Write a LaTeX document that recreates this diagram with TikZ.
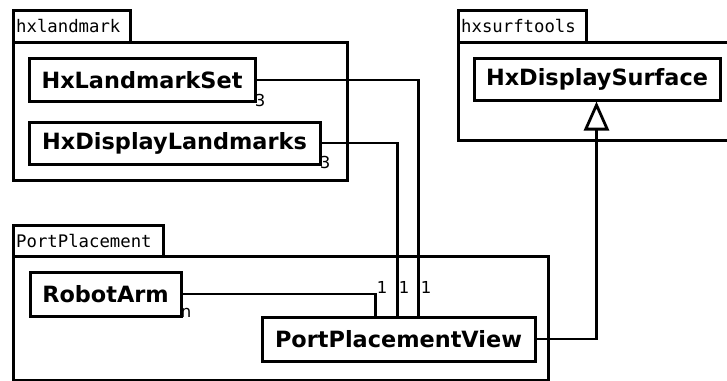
\documentclass[tikz,border=0pt]{standalone}
\usepackage{fontspec}
\newfontfamily\clsfont{DejaVu Sans}
\newfontfamily\pkgfont{DejaVu Sans Mono}
\usetikzlibrary{arrows.meta}
\tikzset{
  box/.style={draw, line width=3pt, inner sep=0pt},
  cls/.style={box, font=\clsfont\bfseries\fontsize{22.4}{26}\selectfont},
  pkgtab/.style={box},
  pkglabel/.style={font=\pkgfont\fontsize{17.3}{20}\selectfont, inner sep=0pt, anchor=west},
  conn/.style={line width=2.8pt},
  mult/.style={font=\clsfont\fontsize{16.5}{19}\selectfont, inner sep=0pt},
}
\begin{document}
\begin{tikzpicture}[x=1pt,y=-1pt]
\useasboundingbox (0,0) rectangle (727,380);
\clip (0,0) rectangle (727,380);
% packages
\node[pkgtab, minimum width=117pt, minimum height=32pt] (tab1) at (71.5,26) {};
\node[pkglabel] (tab1l) at (16,26) {hxlandmark};
\node[box, minimum width=334pt, minimum height=138pt] (pkg1) at (180,111) {};
\node[pkgtab, minimum width=128pt, minimum height=32pt] (tab2) at (522,26) {};
\node[pkglabel] (tab2l) at (461,26) {hxsurftools};
\node[box, minimum width=282pt, minimum height=98pt] (pkg2) at (599,91) {};
\node[pkgtab, minimum width=150pt, minimum height=31pt] (tab3) at (88,240.5) {};
\node[pkglabel] (tab3l) at (16,240.5) {PortPlacement};
\node[box, minimum width=535pt, minimum height=124pt] (pkg3) at (280.5,318) {};
% classes
\node[cls, minimum width=226pt, minimum height=43pt] (lset) at (142,80) {HxLandmarkSet};
\node[cls, minimum width=291pt, minimum height=42pt] (ldisp) at (174.5,143) {HxDisplayLandmarks};
\node[cls, minimum width=246pt, minimum height=42pt] (surf) at (597,79) {HxDisplaySurface};
\node[cls, minimum width=151pt, minimum height=44pt] (robot) at (105.5,294) {RobotArm};
\node[cls, minimum width=273pt, minimum height=44pt] (ppv) at (398.5,339) {PortPlacementView};
% connectors
\draw[conn] (lset.east) -| ([xshift=158pt]ppv.north west);
\draw[conn] (ldisp.east) -| ([xshift=137pt]ppv.north west);
\draw[conn] (robot.east) -| ([xshift=115pt]ppv.north west);
\draw[conn, -{Triangle[open, length=29pt, width=25pt, line width=2.8pt]}] (ppv.east) -| ([xshift=124pt]surf.south west);
% multiplicities
\node[mult] (m1) at (260,100) {3};
\node[mult] (m2) at (325,162) {3};
\node[mult] (m3) at (186,313) {n};
\node[mult] (m4) at (382,287) {1};
\node[mult] (m5) at (404,287) {1};
\node[mult] (m6) at (426,287) {1};
\end{tikzpicture}
\end{document}
